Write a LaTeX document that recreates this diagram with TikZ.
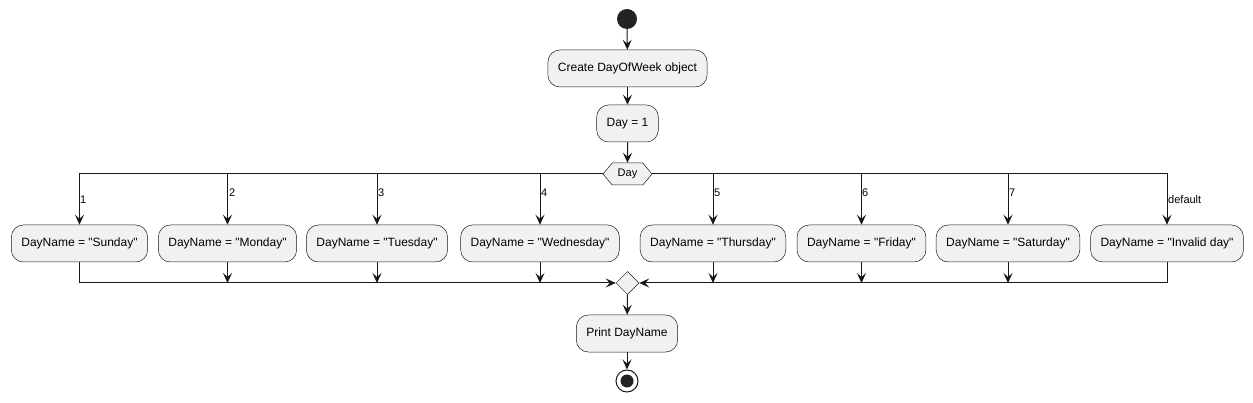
\documentclass[tikz,border=0pt]{standalone}
\usepackage{fontspec}
\setmainfont{Liberation Sans}[Ligatures=TeXOff]
\usetikzlibrary{arrows.meta,shapes.symbols,shapes.geometric}
\definecolor{umlline}{HTML}{181818}
\definecolor{umlfill}{HTML}{F1F1F1}
\definecolor{umldot}{HTML}{222222}

\begin{document}
\begin{tikzpicture}[x=1pt, y=-1pt,
  act/.style={draw=umlline, line width=0.5pt, fill=umlfill, rounded corners=12pt,
    minimum height=37pt, inner xsep=10pt, font=\fontsize{12}{14}\selectfont},
  flow/.style={draw=umlline, line width=1pt, -{Stealth[length=10pt,width=9pt,inset=4pt]}},
  lbl/.style={font=\fontsize{11}{13}\selectfont, anchor=west, inner sep=0pt}]

\useasboundingbox (0,0) rectangle (1253,403);

\node[circle, fill=umldot, minimum size=20pt, inner sep=0pt] (start) at (627,19) {};
\node[act] (create) at (627.5,68.5) {Create DayOfWeek object};
\node[act] (dayone) at (627.5,123.5) {Day = 1};
\node[signal, signal to=east and west, signal pointer angle=100, draw=umlline,
  line width=0.5pt, fill=umlfill, minimum height=22pt, minimum width=49pt,
  inner sep=1pt, font=\fontsize{11}{13}\selectfont] (switch) at (627.5,174) {Day};

\node[act] (sun) at (79.5,243.5) {DayName = "Sunday"};
\node[act] (mon) at (227.5,243.5) {DayName = "Monday"};
\node[act] (tue) at (377,243.5) {DayName = "Tuesday"};
\node[act] (wed) at (540,243.5) {DayName = "Wednesday"};
\node[act] (thu) at (713,243.5) {DayName = "Thursday"};
\node[act] (fri) at (861.5,243.5) {DayName = "Friday"};
\node[act] (sat) at (1008,243.5) {DayName = "Saturday"};
\node[act] (inv) at (1167,243.5) {DayName = "Invalid day"};

\node[diamond, draw=umlline, line width=0.5pt, fill=umlfill, minimum size=23pt,
  inner sep=0pt] (merge) at (627.5,283) {};
\node[act] (print) at (627,333.5) {Print DayName};
\node[circle, draw=umlline, line width=1pt, fill=white, minimum size=22pt, inner sep=0pt] (stop) at (627,381) {};
\node[circle, fill=umldot, minimum size=13pt, inner sep=0pt] (stopdot) at (stop) {};

\draw[flow] (start) -- (create);
\draw[flow] (create) -- (dayone);
\draw[flow] (dayone) -- (switch);

\draw[flow] (switch.west) -| (sun.north);
\draw[flow] (switch.west) -| (mon.north);
\draw[flow] (switch.west) -| (tue.north);
\draw[flow] (switch.west) -| (wed.north);
\draw[flow] (switch.east) -| (thu.north);
\draw[flow] (switch.east) -| (fri.north);
\draw[flow] (switch.east) -| (sat.north);
\draw[flow] (switch.east) -| (inv.north);

\node[lbl] (lsun) at (80,200) {1};
\node[lbl] (lmon) at (229,193) {2};
\node[lbl] (ltue) at (378,193) {3};
\node[lbl] (lwed) at (541,193) {4};
\node[lbl] (lthu) at (714,193) {5};
\node[lbl] (lfri) at (862,193) {6};
\node[lbl] (lsat) at (1009,193) {7};
\node[lbl] (linv) at (1168,200) {default};

\draw[flow] (sun.south) |- (merge.west);
\draw[flow] (mon.south) -- (mon.south |- merge.center);
\draw[flow] (tue.south) -- (tue.south |- merge.center);
\draw[flow] (wed.south) -- (wed.south |- merge.center);
\draw[flow] (thu.south) -- (thu.south |- merge.center);
\draw[flow] (fri.south) -- (fri.south |- merge.center);
\draw[flow] (sat.south) -- (sat.south |- merge.center);
\draw[flow] (inv.south) |- (merge.east);

\draw[flow] (merge) -- (print);
\draw[flow] (print) -- (stop);

\end{tikzpicture}
\end{document}
